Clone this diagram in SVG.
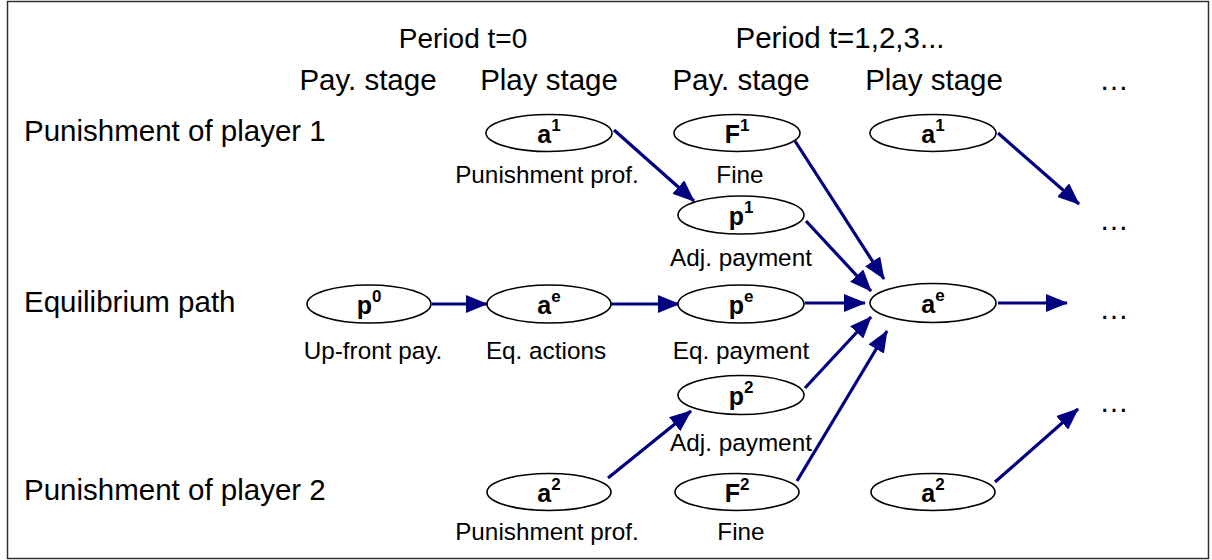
<svg xmlns="http://www.w3.org/2000/svg" width="1212" height="560" viewBox="0 0 1212 560">
<style>
text{font-family:"Liberation Sans",Arial,sans-serif;fill:#000}
.h{font-size:29.5px}
.sub{font-size:24.3px;text-anchor:middle}
.nl{font-size:25px;font-weight:bold;text-anchor:middle}
.sp{font-size:17px}
ellipse{fill:#fff;stroke:#000;stroke-width:1.6}
.c line{stroke:#000080;stroke-width:3.2;marker-end:url(#ah)}
</style>
<defs>
<marker id="ah" markerUnits="userSpaceOnUse" markerWidth="22" markerHeight="18" viewBox="0 0 22 18" refX="21" refY="9" orient="auto">
<path d="M0,0 L22,9 L0,18 z" fill="#000080"/>
</marker>
</defs>
<rect x="7.5" y="1.5" width="1201" height="557" fill="#fff" stroke="#333" stroke-width="1.5"/>
<g id="headers">
<text class="h" x="463" y="48" text-anchor="middle" style="font-size:28px">Period t=0</text>
<text class="h" x="840" y="48" text-anchor="middle">Period t=1,2,3...</text>
<text class="h" x="368" y="90" text-anchor="middle">Pay. stage</text>
<text class="h" x="549" y="90" text-anchor="middle">Play stage</text>
<text class="h" x="741" y="90" text-anchor="middle">Pay. stage</text>
<text class="h" x="934" y="90" text-anchor="middle">Play stage</text>
<text class="h" x="1114" y="90" text-anchor="middle">…</text>
<text class="h" x="24" y="141">Punishment of player 1</text>
<text class="h" x="24" y="312">Equilibrium path</text>
<text class="h" x="24" y="500">Punishment of player 2</text>
<text class="h" x="1114" y="230" text-anchor="middle">…</text>
<text class="h" x="1114" y="319" text-anchor="middle">…</text>
<text class="h" x="1114" y="412" text-anchor="middle">…</text>
</g>
<g class="c" id="connectors">
<line x1="614" y1="130" x2="694" y2="201"/>
<line x1="795" y1="141" x2="884" y2="279"/>
<line x1="806" y1="221" x2="871" y2="291"/>
<line x1="805" y1="303" x2="865" y2="303"/>
<line x1="998" y1="303" x2="1067" y2="303"/>
<line x1="998" y1="133" x2="1079" y2="204"/>
<line x1="432" y1="304" x2="487" y2="304"/>
<line x1="611" y1="304" x2="679" y2="304"/>
<line x1="805" y1="388" x2="871" y2="317"/>
<line x1="797" y1="481" x2="887" y2="331"/>
<line x1="608" y1="478" x2="691" y2="411"/>
<line x1="995" y1="482" x2="1078" y2="409"/>
</g>
<g id="n_a1_0"><ellipse cx="549" cy="133" rx="63" ry="18.5"/><text class="nl" x="549" y="143">a<tspan class="sp" dy="-12">1</tspan></text><text class="sub" x="547" y="183">Punishment prof.</text></g>
<g id="n_F1"><ellipse cx="737" cy="133" rx="63" ry="18.5"/><text class="nl" x="737" y="143">F<tspan class="sp" dy="-12">1</tspan></text><text class="sub" x="740" y="183">Fine</text></g>
<g id="n_p1"><ellipse cx="741" cy="215" rx="63" ry="19"/><text class="nl" x="741" y="225">p<tspan class="sp" dy="-12">1</tspan></text><text class="sub" x="741" y="266">Adj. payment</text></g>
<g id="n_a1_1"><ellipse cx="933" cy="133" rx="63" ry="18.5"/><text class="nl" x="933" y="143">a<tspan class="sp" dy="-12">1</tspan></text></g>
<g id="n_p0"><ellipse cx="369" cy="304" rx="62" ry="19"/><text class="nl" x="369" y="314">p<tspan class="sp" dy="-12">0</tspan></text><text class="sub" x="373" y="359">Up-front pay.</text></g>
<g id="n_ae_0"><ellipse cx="549" cy="304" rx="62" ry="19"/><text class="nl" x="549" y="314">a<tspan class="sp" dy="-12">e</tspan></text><text class="sub" x="546" y="359">Eq. actions</text></g>
<g id="n_pe"><ellipse cx="741" cy="304" rx="63" ry="19"/><text class="nl" x="741" y="314">p<tspan class="sp" dy="-12">e</tspan></text><text class="sub" x="741" y="359">Eq. payment</text></g>
<g id="n_ae_1"><ellipse cx="933" cy="303" rx="63" ry="19.5"/><text class="nl" x="933" y="313">a<tspan class="sp" dy="-12">e</tspan></text></g>
<g id="n_p2"><ellipse cx="741" cy="395" rx="63" ry="19.5"/><text class="nl" x="741" y="405">p<tspan class="sp" dy="-12">2</tspan></text><text class="sub" x="741" y="451">Adj. payment</text></g>
<g id="n_a2_0"><ellipse cx="549" cy="492" rx="62" ry="18.5"/><text class="nl" x="549" y="502">a<tspan class="sp" dy="-12">2</tspan></text><text class="sub" x="547" y="540">Punishment prof.</text></g>
<g id="n_F2"><ellipse cx="737" cy="492" rx="62" ry="18.5"/><text class="nl" x="737" y="502">F<tspan class="sp" dy="-12">2</tspan></text><text class="sub" x="741" y="540">Fine</text></g>
<g id="n_a2_1"><ellipse cx="933" cy="492" rx="62" ry="18.5"/><text class="nl" x="933" y="502">a<tspan class="sp" dy="-12">2</tspan></text></g>
</svg>
